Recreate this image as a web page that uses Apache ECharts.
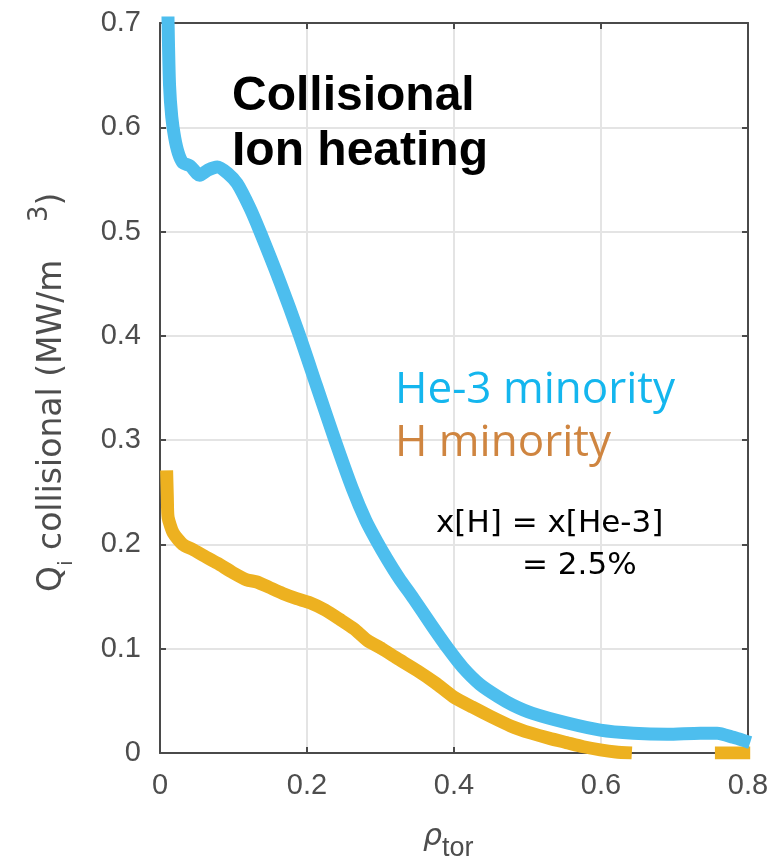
<!DOCTYPE html>
<html>
<head>
<meta charset="utf-8">
<script src="https://cdn.jsdelivr.net/npm/echarts@6/dist/echarts.min.js"></script>
<style>
html,body{margin:0;padding:0;background:#fff;}
#chart{width:777px;height:859px;}
</style>
</head>
<body>
<div id="chart"></div>
<script>
// rho_tor positions and Q_i values, He-3 minority
const rhoHe3 = [0.010, 0.011, 0.013, 0.016, 0.020, 0.025, 0.031, 0.041, 0.054, 0.065, 0.078, 0.092, 0.105, 0.122, 0.136, 0.163, 0.189, 0.213, 0.238, 0.262, 0.280, 0.295, 0.309, 0.325, 0.345, 0.370, 0.392, 0.412, 0.435, 0.460, 0.480, 0.507, 0.553, 0.599, 0.644, 0.690, 0.735, 0.758, 0.780, 0.803];
const qHe3   = [0.750, 0.700, 0.640, 0.610, 0.590, 0.575, 0.566, 0.563, 0.554, 0.559, 0.562, 0.556, 0.546, 0.523, 0.500, 0.452, 0.402, 0.352, 0.300, 0.253, 0.223, 0.203, 0.186, 0.168, 0.148, 0.122, 0.100, 0.082, 0.066, 0.054, 0.046, 0.038, 0.029, 0.022, 0.019, 0.018, 0.019, 0.019, 0.015, 0.010];
// H minority (null = gap in the curve)
const rhoH = [0.009, 0.010, 0.011, 0.018, 0.031, 0.045, 0.060, 0.078, 0.099, 0.118, 0.132, 0.148, 0.167, 0.186, 0.204, 0.225, 0.245, 0.264, 0.282, 0.302, 0.322, 0.350, 0.375, 0.399, 0.425, 0.450, 0.477, 0.505, 0.530, 0.553, 0.576, 0.599, 0.620, 0.642, 0.700, 0.755, 0.803];
const qH   = [0.271, 0.245, 0.226, 0.211, 0.200, 0.195, 0.189, 0.182, 0.173, 0.166, 0.164, 0.159, 0.153, 0.148, 0.144, 0.137, 0.128, 0.119, 0.108, 0.100, 0.091, 0.079, 0.067, 0.054, 0.044, 0.035, 0.026, 0.019, 0.014, 0.010, 0.006, 0.003, 0.001, 0.000, null, 0.000, 0.000];
const xTicks = [0, 0.2, 0.4, 0.6, 0.8];
const yTicks = [0, 0.1, 0.2, 0.3, 0.4, 0.5, 0.6, 0.7];
const seriesNames = ['He-3 minority', 'H minority'];
const titleLines = ['Collisional', 'Ion heating'];
const noteLines = ['x[H] = x[He-3]', '= 2.5%'];

const toPairs = (xs, ys) => xs.map((x, i) => [x, ys[i]]);

const axisColor = '#4a4a4a';
const labelColor = '#4d4d4d';
const tickFont = 'Liberation Sans';
const fmt = v => String(+v.toFixed(1));

const chart = echarts.init(document.getElementById('chart'), null, {renderer: 'canvas'});
const baseX = {
  type: 'value', min: xTicks[0], max: xTicks[xTicks.length - 1], interval: 0.2,
  axisLine: {show: true, onZero: false, lineStyle: {color: axisColor, width: 2}},
  axisTick: {show: true, inside: true, length: 6, lineStyle: {color: axisColor, width: 2}}
};
const baseY = {
  type: 'value', min: yTicks[0], max: yTicks[yTicks.length - 1], interval: 0.1,
  axisLine: {show: true, onZero: false, lineStyle: {color: axisColor, width: 2}},
  axisTick: {show: true, inside: true, length: 6, lineStyle: {color: axisColor, width: 2}}
};
chart.setOption({
  animation: false,
  backgroundColor: '#ffffff',
  grid: {left: 160, right: 29, top: 23, bottom: 106},
  xAxis: [
    Object.assign({}, baseX, {
      position: 'bottom',
      axisLabel: {fontSize: 29, fontFamily: tickFont, color: labelColor, margin: 18, formatter: fmt},
      splitLine: {show: true, lineStyle: {color: '#e4e4e4', width: 2}}
    }),
    Object.assign({}, baseX, {position: 'top', axisLabel: {show: false}, splitLine: {show: false}})
  ],
  yAxis: [
    Object.assign({}, baseY, {
      position: 'left',
      axisLabel: {fontSize: 29, fontFamily: tickFont, color: labelColor, margin: 19, formatter: fmt},
      splitLine: {show: true, lineStyle: {color: '#e4e4e4', width: 2}}
    }),
    Object.assign({}, baseY, {position: 'right', axisLabel: {show: false}, splitLine: {show: false}})
  ],
  series: [
    {
      name: seriesNames[1], type: 'line', xAxisIndex: 0, yAxisIndex: 0,
      data: toPairs(rhoH, qH), showSymbol: false, symbol: 'none', connectNulls: false, smooth: 0.2,
      lineStyle: {color: '#EDB120', width: 13, cap: 'butt', join: 'round'}, z: 3
    },
    {
      name: seriesNames[0], type: 'line', xAxisIndex: 0, yAxisIndex: 0,
      data: toPairs(rhoHe3, qHe3), showSymbol: false, symbol: 'none', smooth: 0.25,
      lineStyle: {color: '#4DBEEE', width: 13, cap: 'butt', join: 'round'}, z: 4
    }
  ],
  graphic: [
    {type: 'text', left: 232, top: 69, z: 10, style: {text: titleLines.join('\n'), font: 'bold 48px "Liberation Sans"', fill: '#000', lineHeight: 55}},
    {type: 'text', left: 395, top: 368, z: 10, style: {text: seriesNames[0], font: '44px "Open Sans"', fill: '#14B6EE'}},
    {type: 'text', left: 395, top: 421, z: 10, style: {text: seriesNames[1], font: '44px "Open Sans"', fill: '#CF8540'}},
    {type: 'text', left: 436, top: 508, z: 10, style: {text: noteLines[0], font: '31px "DejaVu Sans"', fill: '#000'}},
    {type: 'text', left: 522, top: 550, z: 10, style: {text: noteLines[1], font: '31px "DejaVu Sans"', fill: '#000'}},
    {type: 'text', x: 27, y: 592, rotation: Math.PI / 2, z: 10,
      style: {
        text: '{q|Q}{sub|i}{t| collisional (MW/m}{t|   }{sup|3}{t|)}',
        fill: labelColor,
        rich: {
          q: {fontSize: 33, fontFamily: 'DejaVu Sans', fill: labelColor, lineHeight: 50, verticalAlign: 'middle'},
          t: {fontSize: 33, fontFamily: 'DejaVu Sans', fill: labelColor, lineHeight: 50, verticalAlign: 'middle'},
          sub: {fontSize: 20, fontFamily: 'DejaVu Sans', fill: labelColor, lineHeight: 20, verticalAlign: 'bottom'},
          sup: {fontSize: 26, fontFamily: 'DejaVu Sans', fill: labelColor, lineHeight: 21, verticalAlign: 'top', padding: [0, 0, 0, 6]}
        }
      }
    },
    {type: 'text', left: 423, top: 822, z: 10,
      style: {
        text: '{r|ρ}{s|tor}',
        rich: {
          r: {fontSize: 30, fontStyle: 'italic', fontFamily: 'DejaVu Sans', fill: labelColor, lineHeight: 40, verticalAlign: 'top'},
          s: {fontSize: 27, fontFamily: tickFont, fill: labelColor, lineHeight: 30, verticalAlign: 'bottom'}
        }
      }
    }
  ]
});
</script>
</body>
</html>
